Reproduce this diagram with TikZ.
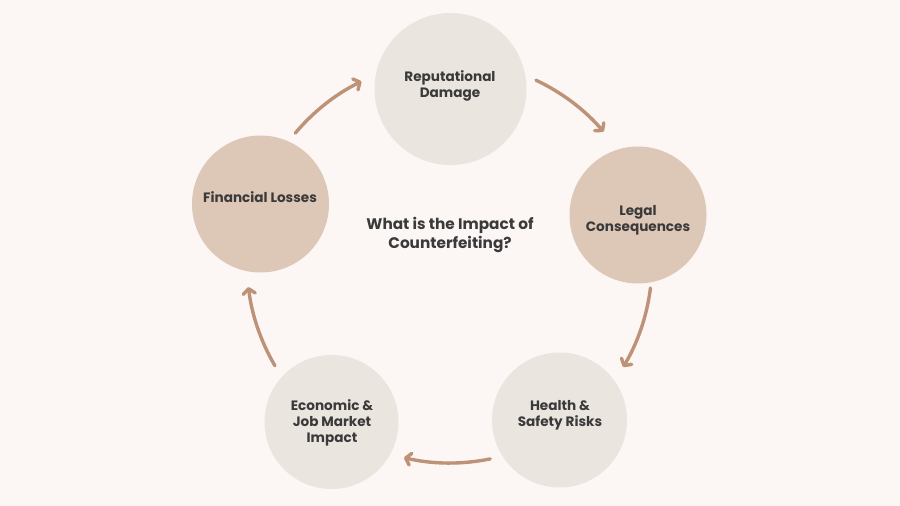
\documentclass[tikz,border=0pt]{standalone}
\usepackage{fontspec}
\setmainfont{Poppins}
\usetikzlibrary{arrows.meta,calc}
\definecolor{bgc}{HTML}{FCF6F5}
\definecolor{lightc}{HTML}{EAE5DF}
\definecolor{tanc}{HTML}{DDC7B6}
\definecolor{arrc}{HTML}{BD9277}
\definecolor{txtc}{HTML}{3A3A3A}
\tikzset{
  bubble/.style={circle, inner sep=0pt, draw=none},
  lbl/.style={text=txtc, font=\bfseries\fontsize{13.6}{16}\selectfont, align=center, inner sep=0pt},
  flow/.style={draw=arrc, line width=3.4pt, line cap=round, -{Straight Barb[length=5pt,width=12pt,line cap=round,line join=round]}}
}
\begin{document}
\begin{tikzpicture}[x=1pt,y=1pt]
\fill[bgc] (0,0) rectangle (900,506);
\useasboundingbox (0,0) rectangle (900,506);
% circles (y = 506 - image y)
\node[bubble, fill=lightc, minimum size=152pt] (rep) at (450.5,417) {};
\node[bubble, fill=tanc, minimum size=137pt] (leg) at (638,291) {};
\node[bubble, fill=lightc, minimum size=135pt] (hea) at (559.5,86) {};
\node[bubble, fill=lightc, minimum size=134pt] (eco) at (331.5,84) {};
\node[bubble, fill=tanc, minimum size=137pt] (fin) at (260.5,302) {};
% labels
\node[lbl] (rept) at (450,420) {Reputational\\Damage};
\node[lbl] (legt) at (638,285.5) {Legal\\Consequences};
\node[lbl] (heat) at (560,90.5) {Health \&\\Safety Risks};
\node[lbl] (ecot) at (332,83) {Economic \&\\Job Market\\Impact};
\node[lbl] (fint) at (260,309) {Financial Losses};
\node[lbl, font=\bfseries\fontsize{15.3}{19.5}\selectfont] (title) at (450,271) {What is the Impact of\\Counterfeiting?};
% arrows along a ring
\coordinate (ring) at (450,243);
\coordinate (a1) at ($(ring)+(140:202)$);
\coordinate (a2) at ($(ring)+(64.8:202)$);
\coordinate (a3) at ($(ring)+(-7.1:202)$);
\coordinate (a4) at ($(ring)+(-78.4:200)$);
\coordinate (a5) at ($(ring)+(210.4:203)$);
\draw[flow] (a1) arc[start angle=140, end angle=116, radius=202];
\draw[flow] (a2) arc[start angle=64.8, end angle=40.5, radius=202];
\draw[flow] (a3) arc[start angle=-7.1, end angle=-31, radius=202];
\draw[flow] (a4) arc[start angle=-78.4, end angle=-103.3, radius=200];
\draw[flow] (a5) arc[start angle=210.4, end angle=186.8, radius=203];
\end{tikzpicture}
\end{document}
